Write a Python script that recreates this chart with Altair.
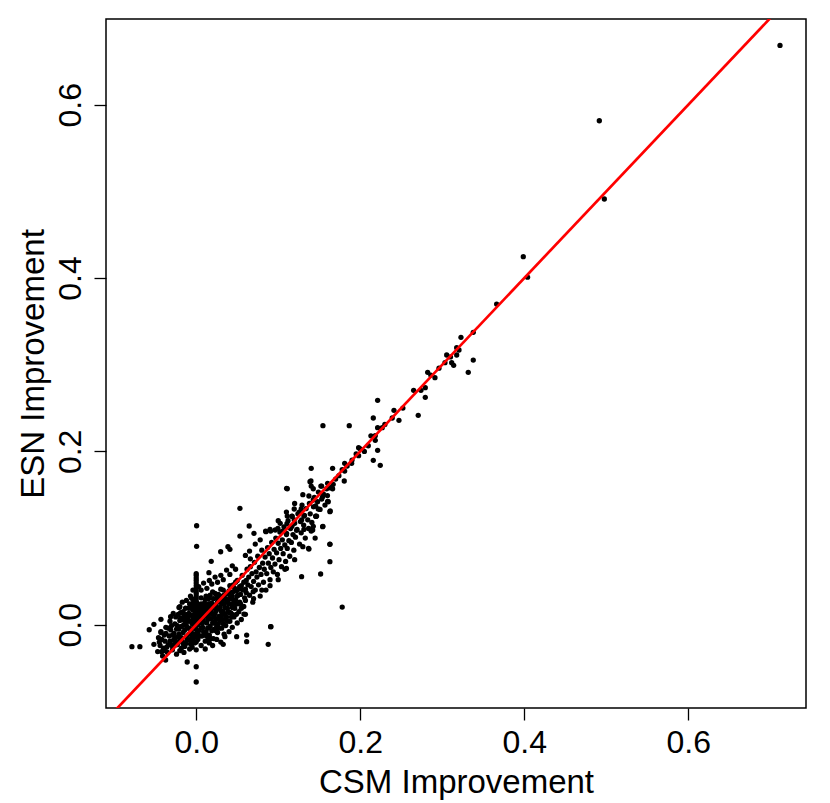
import altair as alt
import pandas as pd

# ---- data: (CSM improvement, ESN improvement) ----
upper_points = [
    (0.7118, 0.6684), (0.4915, 0.5815), (0.4976, 0.4912), (0.3988, 0.4246),
    (0.404, 0.401), (0.3663, 0.370), (0.3378, 0.3374), (0.3228, 0.3316),
    (0.3176, 0.3196), (0.3204, 0.317), (0.3176, 0.3112), (0.3054, 0.3112),
    (0.3033, 0.3023), (0.3115, 0.3023), (0.3139, 0.2993), (0.3378, 0.3054),
    (0.3317, 0.2912), (0.2822, 0.2912), (0.2911, 0.285), (0.2651, 0.2704),
    (0.274, 0.2704), (0.2793, 0.2735), (0.2793, 0.2624), (0.2707, 0.2416),
    (0.2212, 0.2589), (0.2411, 0.2474), (0.239, 0.2385), (0.2472, 0.2358),
    (0.2159, 0.2385), (0.2212, 0.2273), (0.2268, 0.2273), (0.2183, 0.2181),
    (0.2183, 0.2128), (0.2098, 0.2065), (0.198, 0.2042), (0.198, 0.195),
    (0.2212, 0.2012), (0.2159, 0.1897), (0.2244, 0.1839), (0.1545, 0.2296),
    (0.1866, 0.2296), (0.181, 0.1862), (0.1895, 0.1862), (0.181, 0.1773),
    (0.1805, 0.1658), (0.1663, 0.1804), (0.1402, 0.1804), (0.1399, 0.1658),
    (0.1402, 0.16), (0.1427, 0.1569), (0.152, 0.16), (0.1602, 0.1631),
    (0.159, 0.1569), (0.1663, 0.1569), (0.111, 0.1569), (0.1374, 0.1485),
    (0.1427, 0.1439), (0.1541, 0.1477), (0.1602, 0.1424), (0.1634, 0.1312),
    (0.1456, 0.137), (0.1488, 0.1335), (0.1456, 0.1254), (0.1545, 0.1135),
    (0.1427, 0.1135), (0.1402, 0.1081), (0.163, 0.0928), (0.137, 0.0881),
    (0.1195, 0.1335), (0.128, 0.1335), (0.1256, 0.13), (0.1313, 0.1254),
    (0.111, 0.1254), (0.1167, 0.1254), (0.1195, 0.1208), (0.1285, 0.1208),
    (0.1024, 0.117), (0.1106, 0.1165), (0.1167, 0.1135), (0.1313, 0.11),
    (0.1224, 0.1089), (0.1054, 0.1081), (0.0996, 0.1112), (0.0963, 0.1093),
    (0.0846, 0.1081), (0.0907, 0.1081), (0.1102, 0.1054), (0.0704, 0.1054),
]

scattered_points = [
    (-0.0784, -0.0254), (-0.0687, -0.0254), (-0.0516, -0.0226), (-0.0573, -0.0058),
    (-0.0516, 0.0005), (-0.043, 0.0062), (-0.043, -0.0081), (-0.0422, -0.0312),
    (-0.0373, -0.0407), (-0.011, -0.043), (0.0, -0.0485), (0.0, -0.0661),
    (0.0005, 0.1142), (0.0005, 0.0904), (-0.0056, 0.0304), (-0.0199, 0.0208),
    (-0.0312, 0.0092), (-0.0159, 0.015),
    (0.0146, -0.0169), (0.0329, -0.0226), (0.0493, -0.0138), (0.0615, -0.0119),
    (0.0615, -0.0196), (0.0878, -0.0226), (0.0907, -0.0023), (0.0582, 0.0123),
    (0.0695, 0.0381), (0.0463, 0.0196), (0.035, -0.0138),
    (0.0155, 0.060), (0.0183, 0.0731), (0.0298, 0.0842), (0.0387, 0.090),
    (0.0411, 0.087), (0.0533, 0.1343), (0.0646, 0.1139), (0.0533, 0.1023),
    (0.085, 0.1073), (0.1102, 0.1574), (0.1387, 0.165), (0.1529, 0.160),
    (0.1651, 0.1585), (0.161, 0.1419), (0.163, 0.1304), (0.1468, 0.1254),
    (0.1541, 0.1131), (0.142, 0.1093), (0.163, 0.0931), (0.163, 0.0727),
    (0.1374, 0.0873), (0.1517, 0.0585), (0.1285, 0.0554), (0.1082, 0.0639),
    (0.178, 0.0204), (0.0911, -0.0023),
]

zero_csm_esn = [-0.02, -0.012, -0.005, 0.0, 0.003, 0.006, 0.009, 0.012, 0.015,
                0.018, 0.021, 0.024, 0.027, 0.030, 0.033, 0.036, 0.039, 0.042,
                0.045, 0.048, 0.051, 0.054, 0.057, 0.059]

core_points = [
    (-0.047, -0.031), (-0.044, -0.024), (-0.046, -0.015), (-0.041, -0.036), (-0.040, -0.027),
    (-0.038, -0.019), (-0.043, -0.009), (-0.037, -0.003), (-0.035, -0.032), (-0.034, -0.023),
    (-0.033, -0.013), (-0.031, -0.006), (-0.032, 0.004), (-0.029, -0.029), (-0.028, -0.018),
    (-0.027, -0.010), (-0.026, 0.001), (-0.025, 0.009), (-0.024, -0.034), (-0.023, -0.023),
    (-0.022, -0.014), (-0.021, -0.005), (-0.020, 0.005), (-0.019, 0.014), (-0.018, -0.027),
    (-0.017, -0.019), (-0.016, -0.009), (-0.015, 0.000), (-0.014, 0.009), (-0.013, 0.019),
    (-0.013, -0.022), (-0.012, -0.014), (-0.011, -0.004), (-0.010, 0.004), (-0.009, 0.013),
    (-0.008, 0.024), (-0.008, -0.028), (-0.007, -0.017), (-0.006, -0.008), (-0.005, 0.001),
    (-0.004, 0.008), (-0.004, 0.017), (-0.003, 0.027), (-0.002, -0.021), (-0.002, -0.011),
    (-0.001, -0.002), (0.001, 0.006), (0.002, 0.014), (0.002, -0.017), (0.003, -0.007),
    (0.004, 0.002), (0.005, 0.011), (0.005, 0.021), (0.006, 0.031), (0.007, -0.013),
    (0.008, -0.003), (0.008, 0.007), (0.009, 0.016), (0.010, 0.025), (0.011, -0.019),
    (0.012, -0.008), (0.013, 0.002), (0.013, 0.011), (0.014, 0.020), (0.015, 0.030),
    (0.016, -0.012), (0.017, -0.002), (0.018, 0.007), (0.018, 0.016), (0.019, 0.025),
    (0.020, 0.038), (0.021, -0.016), (0.022, -0.005), (0.023, 0.004), (0.023, 0.013),
    (0.024, 0.022), (0.025, 0.031), (0.026, -0.009), (0.027, 0.001), (0.028, 0.010),
    (0.028, 0.019), (0.029, 0.028), (0.030, 0.041), (0.031, -0.004), (0.032, 0.006),
    (0.033, 0.015), (0.034, 0.024), (0.034, 0.034), (0.036, -0.001), (0.037, 0.009),
    (0.038, 0.019), (0.039, 0.029), (0.040, 0.039), (0.041, 0.004), (0.042, 0.014),
    (0.043, 0.024), (0.044, 0.033), (0.045, 0.046), (0.046, 0.009), (0.047, 0.019),
    (0.048, 0.029), (0.049, 0.039), (0.050, 0.051), (0.052, 0.015), (0.053, 0.026),
    (0.054, 0.035), (0.055, 0.045), (0.056, 0.057), (0.058, 0.021), (0.059, 0.031),
    (0.060, 0.041), (0.061, 0.051), (0.062, 0.064),
    (-0.045, -0.020), (-0.039, -0.012), (-0.036, -0.026), (-0.030, -0.024), (-0.030, -0.001),
    (-0.026, -0.015), (-0.024, -0.005), (-0.022, 0.012), (-0.020, -0.019), (-0.018, -0.002),
    (-0.016, 0.006), (-0.014, -0.025), (-0.012, -0.001), (-0.011, 0.012), (-0.009, -0.011),
    (-0.007, 0.004), (-0.006, 0.019), (-0.005, -0.013), (-0.003, -0.004), (-0.002, 0.011),
    (-0.001, 0.021), (0.001, -0.009), (0.002, 0.000), (0.003, 0.009), (0.004, 0.018),
    (0.006, -0.004), (0.007, 0.012), (0.009, 0.003), (0.010, -0.012), (0.011, 0.020),
    (0.012, 0.033), (0.014, -0.004), (0.015, 0.008), (0.016, 0.024), (0.019, -0.007),
    (0.020, 0.012), (0.021, 0.030), (0.022, 0.002), (0.024, 0.016), (0.025, -0.002),
    (0.026, 0.026), (0.027, 0.035), (0.029, 0.005), (0.030, 0.016), (0.031, 0.024),
    (0.033, 0.001), (0.035, 0.012), (0.036, 0.030), (0.038, 0.004), (0.039, 0.015),
    (0.040, 0.024), (0.041, 0.034), (0.043, 0.009), (0.044, 0.020), (0.046, 0.028),
    (0.047, 0.042), (0.049, 0.012), (0.050, 0.024), (0.051, 0.034), (0.053, 0.044),
    (0.055, 0.019), (0.057, 0.040), (0.058, 0.049), (0.060, 0.028), (0.061, 0.037),
    (-0.028, 0.013), (-0.021, 0.020), (-0.017, 0.026), (-0.012, 0.028), (-0.007, 0.033),
    (-0.004, 0.040), (0.003, 0.044), (0.006, 0.040), (0.009, 0.048), (0.013, 0.042),
    (0.016, 0.051), (0.019, 0.047), (0.023, 0.055), (0.026, 0.049), (0.030, 0.057),
    (0.033, 0.052), (0.037, 0.063), (0.041, 0.058), (0.044, 0.068), (0.048, 0.064),
    (-0.020, -0.030), (-0.015, -0.032), (-0.005, -0.026), (0.000, -0.029), (0.006, -0.024),
    (0.011, -0.028), (0.016, -0.021), (0.020, -0.024), (0.025, -0.017), (0.030, -0.020),
    (0.034, -0.011), (0.040, -0.008), (0.044, -0.003), (0.050, 0.002), (0.055, 0.006),
    (0.060, 0.012),
    (-0.042, -0.017), (-0.039, -0.030), (-0.037, -0.010), (-0.034, -0.004), (-0.032, -0.019),
    (-0.029, -0.012), (-0.027, -0.024), (-0.025, -0.019), (-0.023, -0.001), (-0.021, -0.011),
    (-0.019, 0.008), (-0.018, -0.015), (-0.016, -0.022), (-0.015, 0.012), (-0.014, -0.006),
    (-0.013, 0.004), (-0.011, -0.018), (-0.010, 0.009), (-0.009, 0.019), (-0.008, -0.004),
    (-0.007, -0.022), (-0.006, 0.011), (-0.005, 0.024), (-0.004, -0.017), (-0.003, 0.003),
    (-0.002, 0.016), (-0.001, -0.014), (0.001, 0.011), (0.001, 0.025), (0.002, -0.011),
    (0.003, 0.004), (0.004, -0.013), (0.005, 0.015), (0.006, 0.024), (0.007, 0.002),
    (0.008, 0.020), (0.009, -0.008), (0.010, 0.010), (0.011, 0.029), (0.012, 0.015),
    (0.013, -0.013), (0.014, 0.006), (0.015, 0.024), (0.016, 0.013), (0.017, 0.034),
    (0.018, -0.016), (0.019, 0.019), (0.020, 0.002), (0.021, 0.023), (0.022, 0.009),
    (0.023, 0.036), (0.024, -0.007), (0.025, 0.019), (0.026, 0.007), (0.027, 0.027),
    (0.028, -0.004), (0.029, 0.020), (0.030, 0.033), (0.031, 0.011), (0.032, 0.028),
    (0.033, 0.040), (0.035, 0.020), (0.036, 0.006), (0.037, 0.036), (0.038, 0.026),
    (0.040, 0.014), (0.041, 0.045), (0.042, 0.030), (0.044, 0.012), (0.045, 0.038),
    (0.047, 0.025), (0.048, 0.049), (0.050, 0.033), (0.052, 0.041), (0.054, 0.024),
]

band_points = [
    (0.063, 0.046), (0.064, 0.055), (0.065, 0.034), (0.066, 0.067), (0.067, 0.044),
    (0.068, 0.059), (0.069, 0.026), (0.070, 0.050), (0.071, 0.072), (0.072, 0.040),
    (0.073, 0.061), (0.074, 0.055), (0.075, 0.079), (0.076, 0.046), (0.077, 0.066),
    (0.078, 0.033), (0.079, 0.058), (0.080, 0.086), (0.081, 0.071), (0.082, 0.049),
    (0.083, 0.064), (0.084, 0.078), (0.085, 0.040), (0.086, 0.059), (0.087, 0.089),
    (0.088, 0.071), (0.089, 0.082), (0.090, 0.052), (0.091, 0.066), (0.092, 0.095),
    (0.093, 0.077), (0.094, 0.061), (0.095, 0.087), (0.096, 0.070), (0.097, 0.100),
    (0.098, 0.083), (0.099, 0.058), (0.100, 0.094), (0.101, 0.075), (0.102, 0.107),
    (0.103, 0.088), (0.104, 0.067), (0.105, 0.098), (0.106, 0.082), (0.107, 0.113),
    (0.108, 0.092), (0.109, 0.073), (0.110, 0.104), (0.111, 0.088), (0.112, 0.120),
    (0.113, 0.097), (0.114, 0.079), (0.115, 0.111), (0.116, 0.095), (0.117, 0.125),
    (0.118, 0.104), (0.119, 0.086), (0.120, 0.117), (0.121, 0.101), (0.123, 0.110),
    (0.124, 0.128), (0.126, 0.093), (0.127, 0.119), (0.128, 0.106), (0.129, 0.138),
    (0.131, 0.115), (0.132, 0.126), (0.133, 0.100), (0.134, 0.134), (0.136, 0.121),
    (0.137, 0.111), (0.138, 0.140), (0.139, 0.128), (0.141, 0.118), (0.143, 0.136),
    (0.144, 0.147), (0.146, 0.125), (0.148, 0.142), (0.149, 0.153), (0.151, 0.133),
    (0.153, 0.145), (0.155, 0.151), (0.157, 0.138), (0.160, 0.149), (0.163, 0.158),
    (0.167, 0.162), (0.170, 0.168), (0.174, 0.172), (0.178, 0.179), (0.184, 0.183),
    (0.190, 0.190), (0.195, 0.197), (0.200, 0.203), (0.205, 0.200), (0.213, 0.218),
    (0.230, 0.231), (0.252, 0.250), (0.286, 0.288), (0.296, 0.296), (0.310, 0.309),
    (0.060, 0.080), (0.065, 0.085), (0.072, 0.093), (0.078, 0.098), (0.090, 0.110),
    (0.100, 0.120), (0.110, 0.130), (0.120, 0.140), (0.130, 0.150), (0.066, 0.076),
    (0.070, 0.030), (0.080, 0.040), (0.090, 0.045), (0.100, 0.052), (0.110, 0.065),
    (0.120, 0.075), (0.130, 0.090), (0.145, 0.100),
]

# reference line y = intercept + slope * x (abline)
line_intercept = 0.0
line_slope = 1.0
line_x = [-0.2, 0.8]

x_ticks = [0.0, 0.2, 0.4, 0.6]
y_ticks = [0.0, 0.2, 0.4, 0.6]
x_domain = [-0.110, 0.7435]
y_domain = [-0.0961, 0.6989]

# ---- build tables ----
rows = list(upper_points) + list(scattered_points) + list(core_points) + list(band_points)
rows += [(0.0, v) for v in zero_csm_esn]
pts = pd.DataFrame(rows, columns=["csm", "esn"])

line_df = pd.DataFrame({
    "csm": line_x,
    "esn": [line_intercept + line_slope * v for v in line_x],
})

FONT = "Liberation Sans"

x_enc = alt.X(
    "csm:Q",
    scale=alt.Scale(domain=x_domain, nice=False, zero=False),
    axis=alt.Axis(
        title="CSM Improvement", values=x_ticks, format=".1f",
        grid=False, domain=False, ticks=True, tickSize=12, tickWidth=1.3,
        tickColor="black", labelFont=FONT, labelFontSize=32, labelColor="black",
        labelBaseline="alphabetic", labelPadding=32, labelFlush=False,
        titleFont=FONT, titleFontSize=33, titleFontWeight="normal",
        titleColor="black", titleBaseline="alphabetic", titleY=84,
    ),
)
y_enc = alt.Y(
    "esn:Q",
    scale=alt.Scale(domain=y_domain, nice=False, zero=False),
    axis=alt.Axis(
        title="ESN Improvement", values=y_ticks, format=".1f",
        grid=False, domain=False, ticks=True, tickSize=12, tickWidth=1.3,
        tickColor="black", labelFont=FONT, labelFontSize=32, labelColor="black",
        labelAngle=270, labelAlign="center", labelBaseline="alphabetic",
        labelPadding=14, labelFlush=False,
        titleFont=FONT, titleFontSize=33, titleFontWeight="normal",
        titleColor="black", titleBaseline="alphabetic", titleX=-63,
    ),
)

points = alt.Chart(pts).mark_circle(size=28, color="black", opacity=1).encode(
    x=x_enc, y=y_enc
)

line = alt.Chart(line_df).mark_line(color="#ff0000", strokeWidth=2.7, clip=True).encode(
    x="csm:Q", y="esn:Q"
)

chart = (
    alt.layer(points, line)
    .properties(
        width=700, height=689,
        autosize=alt.AutoSizeParams(type="none"),
        padding={"left": 98, "top": 11, "right": 16, "bottom": 92},
    )
    .configure(background="white")
    .configure_view(stroke="black", strokeWidth=1.5)
)

chart.save("out.html", embed_options={"renderer": "svg", "actions": False})
